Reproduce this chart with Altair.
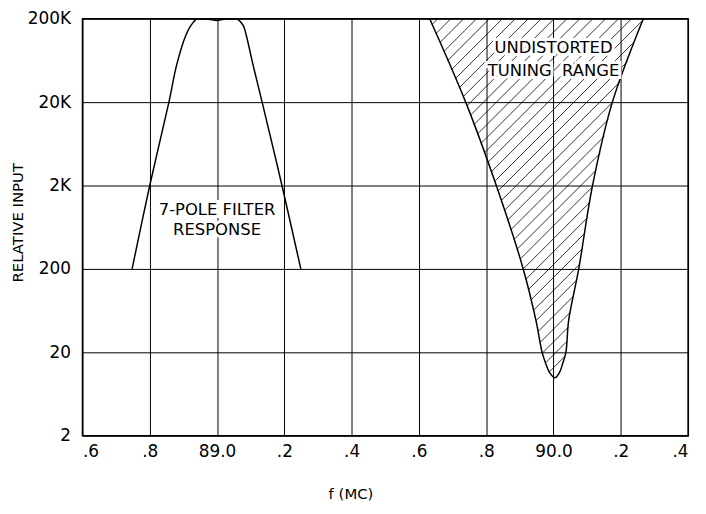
import numpy as np
import pandas as pd
import altair as alt

# ---- data ----
filter_x = [88.7475, 88.80, 88.857, 88.880, 88.907, 88.922, 88.939, 88.954, 88.975, 89.0,
            89.02, 89.042, 89.06, 89.078, 89.087, 89.107, 89.134, 89.193, 89.249]
filter_y = [200, 2000, 20000, 55900, 126000, 165000, 198000, 200000, 197000, 190000,
            197000, 200000, 198000, 165000, 126000, 55900, 20000, 2000, 200]

# tuning range boundary: left side from top to tip, then right side from tip to top
tune_left_x = [89.632, 89.739, 89.830, 89.910, 89.948, 89.966, 89.976, 89.988]
tune_left_y = [200000, 20000, 2000, 200, 48, 20.1, 15.0, 11.5]
tune_tip_x = [90.004]
tune_tip_y = [9.9]
tune_right_x = [90.018, 90.028, 90.037, 90.045, 90.075, 90.116, 90.175, 90.267]
tune_right_y = [11.5, 15.0, 20.1, 48, 200, 2000, 20000, 200000]

x_tick_vals = [88.6, 88.8, 89.0, 89.2, 89.4, 89.6, 89.8, 90.0, 90.2, 90.4]
x_tick_labels = [".6", ".8", "89.0", ".2", ".4", ".6", ".8", "90.0", ".2", ".4"]
y_tick_vals = [2, 20, 200, 2000, 20000, 200000]
y_tick_labels = ["2", "20", "200", "2K", "20K", "200K"]

notes_x = [89.0, 89.0, 90.0, 90.0]
notes_y = [1016, 590, 89800, 47400]
notes_text = ["7-POLE FILTER", "RESPONSE", "UNDISTORTED", "TUNING\u00a0\u00a0RANGE"]

# ---- layout ----
W, H = 610, 420
X0, X1 = 88.6, 90.4
Y0, Y1 = 2, 200000
FONT = "DejaVu Sans"

filt = pd.DataFrame({"x": filter_x, "y": filter_y})
bx = tune_left_x + tune_tip_x + tune_right_x
by = tune_left_y + tune_tip_y + tune_right_y
tune = pd.DataFrame({"x": bx, "y": by, "o": list(range(len(bx)))})

# hatch lines (45 deg in screen space) clipped to the tuning-range polygon
SX = W / (X1 - X0)
SY = H / (np.log10(Y1) - np.log10(Y0))
pu = (np.array(bx) - X0) * SX
pv = (np.log10(np.array(by)) - np.log10(Y0)) * SY
poly = list(zip(pu, pv)) + [(pu[0], pv[0])]
segs = []
for c in np.arange(-H - W, H + W, 13.0):
    pts = []
    for (u1, v1), (u2, v2) in zip(poly[:-1], poly[1:]):
        f1, f2 = v1 - u1 - c, v2 - u2 - c
        if f1 == f2:
            continue
        if (f1 <= 0 < f2) or (f2 <= 0 < f1):
            t = f1 / (f1 - f2)
            pts.append(u1 + t * (u2 - u1))
    pts.sort()
    for a, b in zip(pts[0::2], pts[1::2]):
        segs.append({
            "x": X0 + a / SX, "y": Y0 * 10 ** ((a + c) / SY),
            "x2": X0 + b / SX, "y2": Y0 * 10 ** ((b + c) / SY),
        })
hatch = pd.DataFrame(segs)

xexpr = "''"
for v, l in zip(x_tick_vals[::-1], x_tick_labels[::-1]):
    xexpr = f"round(datum.value*10)=={int(round(v*10))} ? '{l}' : ({xexpr})"
yexpr = "''"
for v, l in zip(y_tick_vals[::-1], y_tick_labels[::-1]):
    yexpr = f"round(datum.value)=={v} ? '{l}' : ({yexpr})"

xscale = alt.Scale(domain=[X0, X1], nice=False, zero=False)
yscale = alt.Scale(type="log", domain=[Y0, Y1], nice=False)

xaxis = alt.Axis(values=x_tick_vals, labelExpr=xexpr, grid=True, ticks=False, domain=False,
                 gridColor="black", gridOpacity=1, gridWidth=1,
                 labelFont=FONT, labelFontSize=17, labelColor="black", labelPadding=8,
                 labelFlush=True, title="f (MC)", titleFont=FONT, titleFontSize=15,
                 titleFontWeight="normal", titleColor="black", titleX=270, titleY=58,
                 titleAlign="center", titleBaseline="middle")
yaxis = alt.Axis(values=y_tick_vals, labelExpr=yexpr, grid=True, ticks=False, domain=False,
                 gridColor="black", gridOpacity=1, gridWidth=1,
                 labelFont=FONT, labelFontSize=17, labelColor="black", labelPadding=12,
                 title="RELATIVE INPUT", titleFont=FONT, titleFontSize=15,
                 titleFontWeight="normal", titleColor="black", titleX=-65, titleY=205,
                 titleAlign="center", titleBaseline="middle", titleAngle=270)

base_grid = alt.Chart(filt).mark_line(opacity=0).encode(
    x=alt.X("x:Q", scale=xscale, axis=xaxis),
    y=alt.Y("y:Q", scale=yscale, axis=yaxis),
)

hatch_layer = alt.Chart(hatch).mark_rule(color="black", strokeWidth=0.8).encode(
    x=alt.X("x:Q", scale=xscale), y=alt.Y("y:Q", scale=yscale), x2="x2:Q", y2="y2:Q")

tune_line = alt.Chart(tune).mark_line(color="black", strokeWidth=1.5, clip=True,
                                      interpolate="catmull-rom").encode(
    x=alt.X("x:Q", scale=xscale), y=alt.Y("y:Q", scale=yscale), order="o:Q")

filt_line = alt.Chart(filt).mark_line(color="black", strokeWidth=1.5, interpolate="catmull-rom",
                                      clip=True).encode(
    x=alt.X("x:Q", scale=xscale), y=alt.Y("y:Q", scale=yscale))

notes = pd.DataFrame({"x": notes_x, "y": notes_y, "t": notes_text})
halo = alt.Chart(notes).mark_text(font=FONT, fontSize=16.5, color="white", stroke="white",
                                  strokeWidth=6, baseline="middle").encode(
    x=alt.X("x:Q", scale=xscale), y=alt.Y("y:Q", scale=yscale), text="t:N")
txt = alt.Chart(notes).mark_text(font=FONT, fontSize=16.5, color="black",
                                 baseline="middle").encode(
    x=alt.X("x:Q", scale=xscale), y=alt.Y("y:Q", scale=yscale), text="t:N")

chart = alt.layer(base_grid, hatch_layer, tune_line, filt_line, halo, txt).properties(
    width=W, height=H,
    padding={"left": 75, "top": 9, "right": 10, "bottom": 72},
    autosize=alt.AutoSizeParams(type="none"),
    background="white",
).configure_view(stroke="black", strokeWidth=1.5)

chart.save("out.html", embed_options={"renderer": "svg", "actions": False})
